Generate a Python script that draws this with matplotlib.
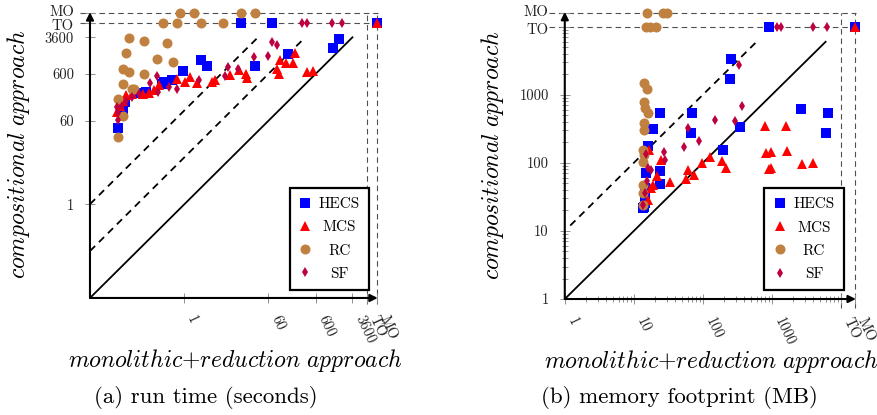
import matplotlib
matplotlib.use('Agg')
import matplotlib.pyplot as plt
from matplotlib.ticker import FixedLocator, NullLocator
from matplotlib.transforms import ScaledTranslation

plt.rcParams['font.family'] = 'serif'
plt.rcParams['font.serif'] = ['cmr10']
plt.rcParams['mathtext.fontset'] = 'cm'
plt.rcParams['axes.formatter.use_mathtext'] = True

# (a) run time in seconds; TO / MO are plotted at fixed positions
TO_A, MO_A = 7200, 12000

hecs_a_x = [16.1, 69.7, MO_A, 1830, 1370, 159, 31.9, 2.29, 3.07, 0.95, 0.557, 0.377, 0.34, 0.15, 0.11, 0.054, 0.049, 0.04]
hecs_a_y = [TO_A, TO_A, TO_A, 3240, 2090, 1560, 863, 1160, 863, 676, 436, 394, 357, 245, 230, 148, 100, 43]

mcs_a_x = [MO_A, 224, 103, 138, 203, 89, 98, 384, 515, 20.5, 21.6, 14.6, 9.43, 4.54, 3.92, 1.28, 0.71, 1.05, 1.80,
           0.295, 0.18, 0.23, 0.13, 0.079, 0.059, 0.049, 0.044, 0.038]
mcs_a_y = [TO_A, 1630, 1160, 1000, 1000, 745, 584, 645, 676, 584, 481, 710, 556, 436, 394, 505, 458, 394, 375,
           340, 230, 267, 219, 219, 209, 155, 122, 91]

rc_a_x = [0.82, 1.63, 16.1, 31.9, 0.36, 0.68, 2.29, 6.7, 0.068, 0.142, 0.42, 0.059, 0.26, 0.585, 0.049, 0.068,
          0.142, 0.049, 0.079, 0.085, 0.04, 0.049, 0.04]
rc_a_y = [MO_A, MO_A, MO_A, MO_A, TO_A, TO_A, TO_A, TO_A, 3400, 2940, 2670, 1630, 1220, 1050, 745, 645,
          584, 357, 280, 280, 171, 75, 27]

sf_a_x = [315, 384, 1300, 2130, 73, 93, 60, 30.4, 8.55, 13.9, 7.39, 2.08, 0.268, 0.19, 0.27, 0.46, 0.71, 0.111,
          0.079, 0.059, 0.047, 0.038, 0.04, 0.04]
sf_a_y = [TO_A, TO_A, TO_A, TO_A, 2800, 2420, 1410, 1340, 822, 745, 530, 436, 530, 375, 242, 308, 280, 219,
          189, 155, 122, 116, 86, 61]

# (b) memory footprint in MB
TO_B, MO_B = 10000, 16000

hecs_b_x = [905, MO_B, 255, 246, 69, 67, 344, 195, 2630, 6480, 6050, 23.8, 18.8, 16.0, 23.8, 23.8, 14.9, 14.4,
            14.4, 14.0, 13.5, 14.4]
hecs_b_y = [TO_B, TO_B, 3390, 1720, 544, 276, 338, 156, 623, 544, 276, 544, 316, 178, 76, 49, 71.3, 42.9,
            30.6, 22.5, 21.8, 25.8]

mcs_b_x = [MO_B, 794, 1590, 818, 968, 1650, 2720, 3930, 905, 968, 126, 188, 215, 97, 74, 56.7, 61, 33.2, 24.6,
           21.5, 19, 17.6, 16.5, 15.8]
mcs_b_y = [TO_B, 350, 350, 140, 145, 150, 97, 100, 81.6, 84.4, 123, 107, 84.4, 100, 66.6, 58, 79, 52.6, 111,
           64.5, 47.5, 42.9, 156, 28.6]

rc_b_x = [15.4, 26.3, 30.1, 14.9, 17.1, 20.8, 14.0, 15.4, 14.0, 14.4, 16.0, 14.0, 14.0, 13.5, 14.0, 13.5, 13.5,
          13.5, 13.5]
rc_b_y = [MO_B, MO_B, MO_B, TO_B, TO_B, TO_B, 1500, 1225, 789, 646, 544, 387, 305, 156, 131, 103, 47.5,
          36.2, 24.1]

sf_b_x = [1180, 1350, 3930, 6270, 335, 363, 152, 291, 60, 53.5, 87, 27.2, 28.1, 14.9, 16.0, 18.0, 15.3, 14.4, 13.5]
sf_b_y = [TO_B, TO_B, TO_B, TO_B, 2760, 675, 429, 415, 325, 173, 210, 145, 111, 135, 84, 78, 54, 36, 24]

ticks_a = [1, 60, 600, 3600, TO_A, MO_A]
labels_a = ['1', '60', '600', '3600', 'TO', 'MO']
ticks_b = [1, 10, 100, 1000, TO_B, MO_B]
labels_b = ['1', '10', '100', '1000', 'TO', 'MO']

styles = [('HECS', 's', '#0000ff', 7.0),
          ('MCS', '^', '#ff0000', 7.6),
          ('RC', 'o', '#bf8040', 7.2),
          ('SF', 'd', '#bf0040', 5.6)]

fig = plt.figure(figsize=(8.77, 4.15), dpi=100)
ax_a = fig.add_axes([0.1026, 0.282, 0.3307, 0.694])
ax_b = fig.add_axes([0.644, 0.2795, 0.333, 0.694])

TICK_SIZE = 10.5


def panel(ax, lo, hi, to, mo, xs, ys, ticks, labels, minor, solid_end, dashed, legend_anchor):
    ax.set_xscale('log')
    ax.set_yscale('log')
    ax.set_xlim(lo, hi)
    ax.set_ylim(lo, hi)
    for s in ax.spines.values():
        s.set_visible(False)

    # TO / MO guide lines
    gkw = dict(color='#505050', lw=0.8, dashes=(5, 3.5), clip_on=False, zorder=1)
    for v in (to, mo):
        ax.plot([lo * 0.6, mo * 1.03], [v, v], **gkw)
        ax.plot([v, v], [lo * 0.75, mo], **gkw)

    # diagonals: y = x (solid) and y = k*x (dashed)
    ax.plot([lo, solid_end], [lo, solid_end], color='black', lw=1.3, zorder=2)
    for k, x0, x1 in dashed:
        ax.plot([x0, x1], [k * x0, k * x1], color='black', lw=1.3, dashes=(4, 3), zorder=2)

    # axis arrows
    akw = dict(arrowstyle='-|>', color='black', lw=1.5, shrinkA=0, shrinkB=0, mutation_scale=11)
    ax.annotate('', xy=(mo * 1.03, lo), xytext=(lo, lo), arrowprops=akw, annotation_clip=False)
    ax.annotate('', xy=(lo, mo * 1.03), xytext=(lo, lo), arrowprops=akw, annotation_clip=False)

    for (name, m, c, ms), x, y in zip(styles, xs, ys):
        ax.plot(x, y, m, color=c, ms=ms, mew=0, ls='none', label=name, clip_on=False, zorder=3)

    ax.set_xticks(ticks, labels, rotation=-65, ha='left', va='top')
    # TO / MO on the y axis sit very close, drawn separately and nudged apart
    ax.set_yticks(ticks, labels[:-2] + ['', ''])
    for v, txt, dy in ((mo, labels[-1], 1.3), (to, labels[-2], -1.3)):
        off = ScaledTranslation(-11.5 / 72, dy / 72, fig.dpi_scale_trans)
        ax.text(0, v, txt, transform=ax.get_yaxis_transform() + off, ha='right', va='center_baseline',
                fontsize=TICK_SIZE, color='#222222')
    if minor:
        ax.xaxis.set_minor_locator(FixedLocator(minor))
        ax.yaxis.set_minor_locator(FixedLocator(minor))
    else:
        ax.xaxis.set_minor_locator(NullLocator())
        ax.yaxis.set_minor_locator(NullLocator())
    ax.tick_params(which='both', direction='inout', color='#909090', width=0.7,
                   labelsize=TICK_SIZE, labelcolor='#222222', pad=8)
    ax.tick_params(which='major', length=7)
    ax.tick_params(which='minor', length=4)

    ax.set_xlabel(r'$\mathit{monolithic{+}reduction\ approach}$', fontsize=17)
    ax.set_ylabel(r'$\mathit{compositional\ approach}$', fontsize=17)
    ax.xaxis.set_label_coords(0.5, -0.17)
    ax.yaxis.set_label_coords(-0.2, 0.5)

    leg = ax.legend(loc='lower right', bbox_to_anchor=legend_anchor, fancybox=False, edgecolor='black',
                    framealpha=1, borderpad=0.6, labelspacing=0.62, handletextpad=0.5, handlelength=0.8,
                    fontsize=11, borderaxespad=0)
    leg.get_frame().set_linewidth(1.6)
    return leg


minor_b = [m * 10 ** e for e in range(0, 4) for m in range(2, 10)]

leg_a = panel(ax_a, 0.01, 13800, TO_A, MO_A,
              [hecs_a_x, mcs_a_x, rc_a_x, sf_a_x], [hecs_a_y, mcs_a_y, rc_a_y, sf_a_y],
              ticks_a, labels_a, None, 3600, [(10, 0.01, 360), (100, 0.01, 36)], (0.962, 0.028))
leg_b = panel(ax_b, 1, 17000, TO_B, MO_B,
              [hecs_b_x, mcs_b_x, rc_b_x, sf_b_x], [hecs_b_y, mcs_b_y, rc_b_y, sf_b_y],
              ticks_b, labels_b, minor_b, 6000, [(10, 1.2, 600)], (0.955, 0.031))

fig.text(0.235, 0.041, '(a) run time (seconds)', ha='center', va='center', fontsize=16.5)
fig.text(0.775, 0.041, '(b) memory footprint (MB)', ha='center', va='center', fontsize=16.5)

# centre the legend entries like the original
fig.canvas.draw()
renderer = fig.canvas.get_renderer()
for leg in (leg_a, leg_b):
    texts = leg.get_texts()
    widths = [t.get_window_extent(renderer).width for t in texts]
    wmax = max(widths)
    for t, w in zip(texts, widths):
        t.set_position(((wmax - w) / 2, 0))

fig.savefig('out.png', dpi=100)
